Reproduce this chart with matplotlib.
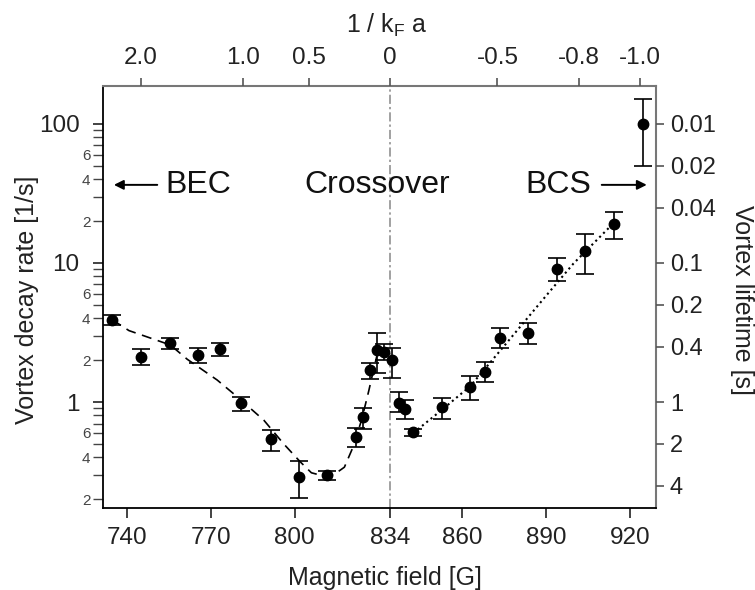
import numpy as np
import matplotlib
matplotlib.use('Agg')
import matplotlib.pyplot as plt

plt.rcParams['font.family'] = ['Liberation Sans', 'DejaVu Sans']

# vortex decay rate vs magnetic field
field = [734.8, 745.2, 755.4, 765.6, 773.5, 781.0, 791.4, 801.5, 811.6, 822.0,
         824.5, 827.1, 829.6, 832.0, 834.8, 837.2, 839.6, 842.5, 852.7, 862.8,
         867.9, 873.3, 883.3, 893.8, 903.9, 914.3, 924.4]
rate = [3.9, 2.12, 2.64, 2.18, 2.39, 0.98, 0.54, 0.29, 0.298, 0.563,
        0.776, 1.70, 2.38, 2.30, 2.0, 0.99, 0.89, 0.605, 0.916, 1.29,
        1.65, 2.90, 3.15, 9.06, 12.2, 19.1, 100.0]
rate_lo = [3.6, 1.85, 2.39, 1.92, 2.14, 0.866, 0.446, 0.203, 0.275, 0.477,
           0.636, 1.46, 1.61, 2.0, 1.50, 0.85, 0.755, 0.57, 0.755, 1.03,
           1.39, 2.46, 2.60, 7.45, 8.3, 14.8, 49.9]
rate_hi = [4.2, 2.41, 2.90, 2.44, 2.64, 1.09, 0.63, 0.376, 0.32, 0.647,
           0.90, 1.92, 3.12, 2.6, 2.46, 1.19, 1.03, 0.64, 1.06, 1.54,
           1.95, 3.39, 3.68, 10.8, 16.1, 23.3, 150.0]

# guide curves
bec_field = [734.9, 740.8, 755.6, 761.6, 772.3, 779.5, 789.0, 796.1, 802.1,
             806.0, 810.0, 814.0, 817.8, 821.0, 824.0, 826.5, 828.5, 830.0]
bec_rate = [3.89, 3.26, 2.57, 2.03, 1.44, 1.09, 0.74, 0.50, 0.37,
            0.31, 0.295, 0.30, 0.34, 0.48, 0.75, 1.2, 1.8, 2.4]
bcs_field = [842.5, 852.7, 862.8, 874.7, 890.2, 899.7, 914.0]
bcs_rate = [0.60, 0.88, 1.30, 2.5, 5.9, 9.9, 19.3]

xticks = [740, 770, 800, 834, 860, 890, 920]
major_y = [1, 10, 100]
minor_y = [0.2, 0.3, 0.4, 0.5, 0.6, 0.7, 0.8, 0.9,
           2, 3, 4, 5, 6, 7, 8, 9,
           20, 30, 40, 50, 60, 70, 80, 90]
minor_y_labels = ['2', '', '4', '', '6', '', '', '',
                  '2', '', '4', '', '6', '', '', '',
                  '2', '', '4', '', '6', '', '', '']

# top axis: 1/kFa and the field where it sits
kfa_labels = ['2.0', '1.0', '0.5', '0', '-0.5', '-0.8', '-1.0']
kfa_field = [745, 781.5, 805, 834, 872.5, 901.5, 923.5]

# right axis: lifetime [s]
lifetime = [0.01, 0.02, 0.04, 0.1, 0.2, 0.4, 1, 2, 4]
lifetime_labels = ['0.01', '0.02', '0.04', '0.1', '0.2', '0.4', '1', '2', '4']

fig = plt.figure(figsize=(7.55, 5.90), dpi=100)
ax = fig.add_axes([103/755, 1-508/590, (656-103)/755, (508-86)/590])
ax.set_yscale('log')
ax.set_xlim(731.5, 929.2)
ax.set_ylim(0.173, 187)

ax.axvline(834, color='#888888', lw=1.1, dashes=(6, 2, 1.5, 2), zorder=1)
ax.plot(bec_field, bec_rate, color='black', lw=1.2, dashes=(6, 4), zorder=2)
ax.plot(bcs_field, bcs_rate, color='black', lw=1.5, ls=':', zorder=2)
ax.errorbar(field, rate,
            yerr=[np.array(rate) - np.array(rate_lo), np.array(rate_hi) - np.array(rate)],
            fmt='o', color='black', ms=7.5, capsize=6.5, elinewidth=1.2,
            capthick=1.2, zorder=3)

# labels inside the plot
yt = 36.4
arr = dict(arrowstyle='-|>', color='black', lw=1.4, mutation_scale=14, shrinkA=0, shrinkB=0)
ax.annotate('', xy=(735.4, yt), xytext=(750.9, yt), arrowprops=arr)
ax.text(753.9, yt, 'BEC', fontsize=23, ha='left', va='center', color='#111111')
ax.text(829.5, yt, 'Crossover', fontsize=23, ha='center', va='center', color='#111111')
ax.text(882.4, yt, 'BCS', fontsize=23, ha='left', va='center', color='#111111')
ax.annotate('', xy=(925.9, yt), xytext=(909.8, yt), arrowprops=arr)

# bottom / left ticks
ax.set_xticks(xticks)
ax.set_xticklabels([str(v) for v in xticks])
ax.set_yticks(major_y)
ax.set_yticklabels([str(v) for v in major_y])
ax.set_yticks(minor_y, minor=True)
ax.set_yticklabels(minor_y_labels, minor=True)
ax.tick_params(axis='x', direction='out', length=7, width=1.2, labelsize=17.5, pad=7, colors='#222222')
ax.tick_params(axis='y', which='major', direction='out', length=7, width=1.2, labelsize=17.5, pad=10, colors='#222222')
ax.tick_params(axis='y', which='minor', direction='out', length=7, width=1.0, labelsize=11, pad=2,
               colors='#444444')
for s in ['left', 'bottom']:
    ax.spines[s].set_color('black')
    ax.spines[s].set_linewidth(1.3)
for s in ['top', 'right']:
    ax.spines[s].set_color('#777777')
    ax.spines[s].set_linewidth(1.5)

# right axis
ax2 = ax.twinx()
ax2.set_yscale('log')
ax2.set_ylim(ax.get_ylim())
ax2.set_yticks([1.0 / v for v in lifetime])
ax2.set_yticklabels(lifetime_labels)
ax2.yaxis.set_minor_locator(matplotlib.ticker.NullLocator())
ax2.tick_params(axis='y', direction='out', length=6, width=1.2, labelsize=17, pad=4,
                colors='#555555', labelcolor='#222222')
for s in ax2.spines.values():
    s.set_visible(False)

# top axis
ax3 = ax.twiny()
ax3.set_xlim(ax.get_xlim())
ax3.set_xticks(kfa_field)
ax3.set_xticklabels(kfa_labels)
ax3.tick_params(axis='x', direction='out', length=6, width=1.2, labelsize=17.5, pad=6,
                colors='#555555', labelcolor='#222222')
for s in ax3.spines.values():
    s.set_visible(False)

fig.text(385 / 755, 1 - 578 / 590, 'Magnetic field [G]', fontsize=18, ha='center', va='center', color='#222222')
fig.text(27 / 755, 1 - 300 / 590, 'Vortex decay rate [1/s]', fontsize=18, rotation=90,
         ha='center', va='center', color='#222222')
fig.text(742 / 755, 1 - 300 / 590, 'Vortex lifetime [s]', fontsize=18, rotation=270,
         ha='center', va='center', color='#222222')
fig.text(387 / 755, 1 - 25 / 590, r'1 / $\mathregular{k_F}$ a', fontsize=18,
         ha='center', va='center', color='#222222')

fig.savefig('out.png', dpi=100)
